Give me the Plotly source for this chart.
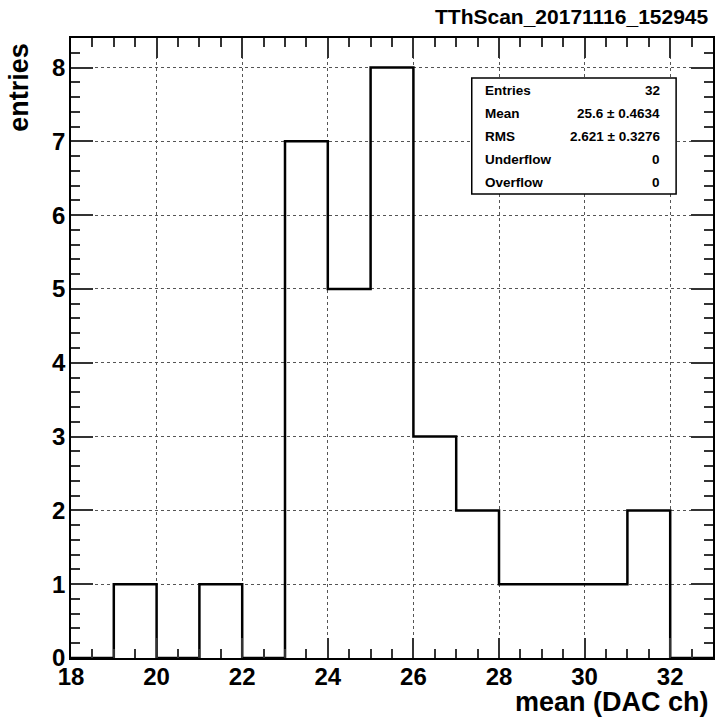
import plotly.graph_objects as go

# ---- data ----
bin_edges = [18, 19, 20, 21, 22, 23, 24, 25, 26, 27, 28, 29, 30, 31, 32, 33]
counts = [0, 1, 0, 1, 0, 7, 5, 8, 3, 2, 1, 1, 1, 2, 0]
stat_labels = ["Entries", "Mean", "RMS", "Underflow", "Overflow"]
stat_values = ["32", "25.6 \u00b1 0.4634", "2.621 \u00b1 0.3276", "0", "0"]
title_text = "TThScan_20171116_152945"
x_title = "mean (DAC ch)"
y_title = "entries"

W, H = 716, 718
L, R, T, B = 71, 1, 38, 60
PW, PH = W - L - R, H - T - B

def px(xp):
    return (xp - L) / PW

def py(yp):
    return (H - B - yp) / PH

FONT = "Liberation Sans, Arial, sans-serif"
XR = [18, 33]
YR = [0, 8.4]

fig = go.Figure()
fig.add_trace(go.Scatter(
    x=bin_edges,
    y=counts + [counts[-1]],
    mode="lines",
    line=dict(shape="hv", color="black", width=2.5),
    hoverinfo="skip",
    showlegend=False,
))
# invisible trace to activate the mirrored (top/right) tick axes
fig.add_trace(go.Scatter(
    x=bin_edges[:1], y=counts[:1], xaxis="x2", yaxis="y2",
    mode="markers", marker=dict(opacity=0), hoverinfo="skip", showlegend=False,
))

tickfont = dict(family=FONT, size=24, color="black", weight="bold")
minor_x = dict(ticks="inside", dtick=0.5, ticklen=9, tickcolor="#333333",
               tickwidth=1.5, showgrid=False)
minor_y = dict(ticks="inside", dtick=0.2, ticklen=9, tickcolor="#333333",
               tickwidth=1.5, showgrid=False)

fig.update_layout(
    xaxis=dict(
        range=XR, tick0=18, dtick=2, ticklen=20, ticks="inside",
        tickcolor="#333333", tickwidth=1.5, minor=minor_x,
        showline=True, linecolor="black", linewidth=1.5, mirror=True,
        showgrid=True, gridcolor="#555555", gridwidth=1, griddash="dot",
        zeroline=False, tickfont=tickfont, ticklabelstandoff=-4,
    ),
    yaxis=dict(
        range=YR, tick0=0, dtick=1, ticklen=22, ticks="inside",
        tickcolor="#333333", tickwidth=1.5, minor=minor_y,
        showline=True, linecolor="black", linewidth=1.5, mirror=True,
        showgrid=True, gridcolor="#555555", gridwidth=1, griddash="dot",
        zeroline=False, tickfont=tickfont, ticklabelstandoff=-1,
    ),
    xaxis2=dict(
        range=XR, tick0=18, dtick=2, ticklen=20, ticks="inside",
        tickcolor="#333333", tickwidth=1.5, minor=minor_x,
        overlaying="x", side="top", anchor="y2", showticklabels=False,
        showgrid=False, zeroline=False, showline=False,
    ),
    yaxis2=dict(
        range=YR, tick0=0, dtick=1, ticklen=22, ticks="inside",
        tickcolor="#333333", tickwidth=1.5, minor=minor_y,
        overlaying="y", side="right", anchor="x2", showticklabels=False,
        showgrid=False, zeroline=False, showline=False,
    ),
)

annotations = []
annotations.append(dict(
    text=title_text, xref="paper", yref="paper", x=px(713), y=py(17),
    xanchor="right", yanchor="middle", showarrow=False,
    font=dict(family=FONT, size=21, color="black", weight="bold"),
))
annotations.append(dict(
    text=x_title, xref="paper", yref="paper", x=px(713), y=py(702),
    xanchor="right", yanchor="middle", showarrow=False,
    font=dict(family=FONT, size=27, color="black", weight="bold"),
))
annotations.append(dict(
    text=y_title, xref="paper", yref="paper", x=px(18), y=py(41),
    xanchor="center", yanchor="top", showarrow=False, textangle=-90,
    font=dict(family=FONT, size=27, color="black", weight="bold"),
))

row_y0, row_dy = 90.5, 23.1
for i, (lab, val) in enumerate(zip(stat_labels, stat_values)):
    yy = py(row_y0 + i * row_dy)
    annotations.append(dict(
        text=lab, xref="paper", yref="paper", x=px(484), y=yy,
        xanchor="left", yanchor="middle", showarrow=False,
        font=dict(family=FONT, size=13.5, color="black", weight="bold"),
    ))
    annotations.append(dict(
        text=val, xref="paper", yref="paper", x=px(664), y=yy,
        xanchor="right", yanchor="middle", showarrow=False,
        font=dict(family=FONT, size=13.5, color="black", weight="bold"),
    ))

shapes = [dict(
    type="rect", xref="paper", yref="paper",
    x0=px(473), x1=px(678), y0=py(194), y1=py(78),
    line=dict(color="black", width=1.5), fillcolor="white", layer="above",
)]

fig.update_layout(
    width=W, height=H,
    margin=dict(l=L, r=R, t=T, b=B),
    paper_bgcolor="white", plot_bgcolor="white",
    annotations=annotations, shapes=shapes,
    showlegend=False,
)

fig.write_html("out.html")
